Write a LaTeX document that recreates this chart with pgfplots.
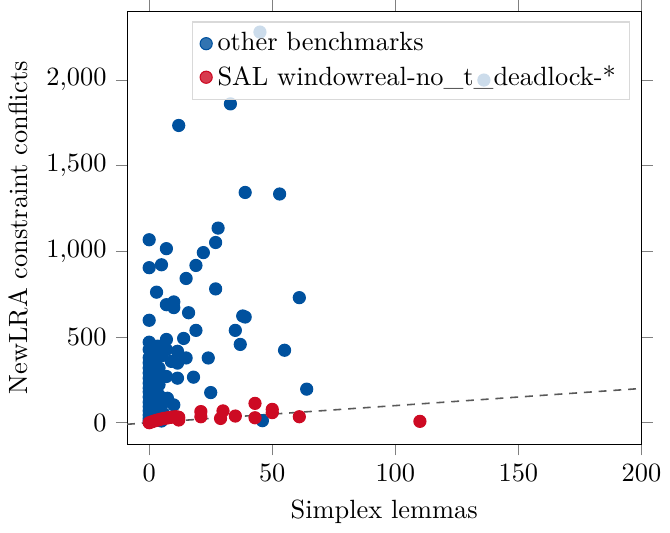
\documentclass[border=0pt]{standalone}
\usepackage{pgfplots}
\pgfplotsset{compat=1.18}
\definecolor{myblue}{RGB}{0,81,158}
\definecolor{myred}{RGB}{205,10,35}
\pgfplotstableread{
x y
45 2280
136 2000
12 1735
33 1861
39 1344
53 1335
28 1136
0 1068
7 1016
27 1052
22 993
0 905
5 922
19 918
15 842
3 762
27 781
7 689
10 705
10 672
16 642
0 598
38 623
39 617
19 539
35 539
61 730
55 423
64 196
46 12
37 457
24 378
25 176
18 266
14 492
7 486
0 427
3.4 447
2 407
7 427
11.5 417
15 378
11.5 348
9 358
0 319
4 319
2.7 280
7 270
11.5 260
0 260
0 202
4 222
1.3 153
7.4 143
10 104
0 94
0 45
0 10
0 25
0 70
0 120
0 150
0 180
0 230
0 290
0 350
0 380
1 20
1 60
1 110
1 200
1 300
1 420
2 40
2 90
2 170
2 240
2 330
3 15
3 60
3 120
3 200
4 40
4 160
5 100
5 10
6 50
3 380
5 390
1 440
0 470
}\bluedata
\pgfplotstableread{
x y
0 0
1 5
2 10
3 14
4 18
5 22
6 25
7 27
8 30
9 32
10 34
11 35
12 16
12 32
21 65
21 35
30 69
29 25
35 39
43 113
43 29
50 78
50 59
61 35
110 8
}\reddata
\begin{document}
\begin{tikzpicture}
\begin{axis}[
  scale only axis, width=195pt, height=164pt,
  xmin=-9, xmax=200, ymin=-125, ymax=2400,
  xtick={0,50,100,150,200}, ytick={0,500,1000,1500,2000},
  tick align=outside,
  xlabel={Simplex lemmas}, ylabel={NewLRA constraint conflicts},
  legend cell align=left,
  legend style={at={(0.977,0.977)}, anchor=north east, fill=white, fill opacity=0.8, draw opacity=1, text opacity=1, draw=black!15},
]
\addplot[black!65, line width=0.6pt, dash pattern=on 3pt off 2.6pt, forget plot] coordinates {(-9,-9) (200,200)};
\addplot[only marks, mark=*, mark size=2.3pt, color=myblue] table[x=x,y=y] {\bluedata};
\addlegendentry{other benchmarks}
\addplot[only marks, mark=*, mark size=2.3pt, color=myred] table[x=x,y=y] {\reddata};
\addlegendentry{SAL windowreal-no\_t\_deadlock-*}
\end{axis}
\end{tikzpicture}
\end{document}
